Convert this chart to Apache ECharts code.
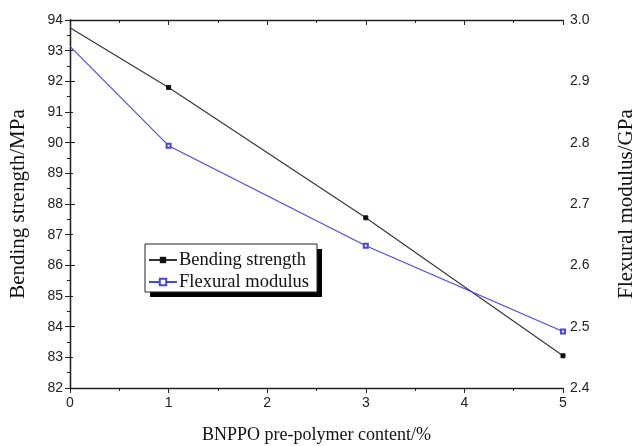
<!DOCTYPE html>
<html><head><meta charset="utf-8">
<script src="https://cdn.jsdelivr.net/npm/echarts@6/dist/echarts.min.js"></script>
<style>html,body{margin:0;padding:0;background:#fff}#c{width:639px;height:446px}</style>
</head><body><div id="c"></div>
<script>
const contents = [0, 1, 3, 5];
const bendingStrength = [93.75, 91.8, 87.55, 83.05];
const flexuralModulus = [2.957, 2.795, 2.632, 2.492];
const xTicks = [0, 1, 2, 3, 4, 5];
const leftTicks = [82, 83, 84, 85, 86, 87, 88, 89, 90, 91, 92, 93, 94];
const rightTicks = [2.4, 2.5, 2.6, 2.7, 2.8, 2.9, 3.0];

const chart = echarts.init(document.getElementById('c'), null, {renderer: 'canvas'});
const serif = 'Liberation Serif, Times New Roman, serif';
const sans = 'Liberation Sans, Arial, sans-serif';
const axisLine = {show: true, lineStyle: {color: '#222', width: 1.3}};
const pts = (ys) => contents.map((x, i) => ({value: [x, ys[i]], symbolSize: x === 0 ? 0 : 4}));
chart.setOption({
  animation: false,
  backgroundColor: '#fff',
  grid: {left: 70, right: 76, top: 20, bottom: 58, show: false, containLabel: false, outerBoundsMode: 'none'},
  graphic: [
    {type: 'rect', z: 0, shape: {x: 150, y: 249, width: 172, height: 48}, style: {fill: '#000'}, silent: true},
    {type: 'rect', z: 0, shape: {x: 145, y: 244, width: 172, height: 48}, style: {fill: '#fff', stroke: '#222', lineWidth: 1}, silent: true}
  ],
  legend: {
    left: 148, top: 250, orient: 'vertical', itemGap: 2,
    itemWidth: 28, itemHeight: 8,
    padding: 0, z: 10,
    textStyle: {fontFamily: serif, fontSize: 18.5, lineHeight: 20, color: '#111', padding: [0, 0, 0, -3]},
    data: ['Bending strength', 'Flexural modulus']
  },
  xAxis: [{
    type: 'value', min: 0, max: 5, interval: 1,
    name: 'BNPPO pre-polymer content/%', nameLocation: 'middle', nameGap: 38,
    nameTextStyle: {fontFamily: serif, fontSize: 18, color: '#111'},
    axisLine: axisLine,
    axisTick: {show: true, length: 5, lineStyle: {color: '#222'}},
    minorTick: {show: true, splitNumber: 2, length: 3, lineStyle: {color: '#222'}},
    axisLabel: {fontFamily: sans, fontSize: 14, color: '#222', margin: 8,
      formatter: v => xTicks.includes(v) ? String(v) : ''},
    splitLine: {show: false}
  }, {
    type: 'value', min: 0, max: 5, interval: 1, position: 'top',
    axisLine: axisLine,
    axisTick: {show: true, inside: true, length: 5, lineStyle: {color: '#222'}},
    minorTick: {show: true, splitNumber: 2, length: 3, lineStyle: {color: '#222'}},
    axisLabel: {show: false}, splitLine: {show: false}
  }],
  yAxis: [{
    type: 'value', min: 82, max: 94, interval: 1,
    name: 'Bending strength/MPa', nameLocation: 'middle', nameGap: 41, nameRotate: 90,
    nameTextStyle: {fontFamily: serif, fontSize: 21, color: '#111'},
    axisLine: axisLine,
    axisTick: {show: true, length: 5, lineStyle: {color: '#222'}},
    minorTick: {show: true, splitNumber: 2, length: 3, lineStyle: {color: '#222'}},
    axisLabel: {fontFamily: sans, fontSize: 14, color: '#222', margin: 7,
      formatter: v => leftTicks.includes(v) ? String(v) : ''},
    splitLine: {show: false}
  }, {
    type: 'value', min: 2.4, max: 3.0, interval: 0.1, position: 'right',
    name: 'Flexural modulus/GPa', nameLocation: 'middle', nameGap: 53, nameRotate: 90,
    nameTextStyle: {fontFamily: serif, fontSize: 21, color: '#111'},
    axisLine: axisLine,
    axisTick: {show: true, length: 5, lineStyle: {color: '#222'}},
    minorTick: {show: true, splitNumber: 2, length: 3, lineStyle: {color: '#222'}},
    axisLabel: {fontFamily: sans, fontSize: 14, color: '#222', margin: 7,
      formatter: v => v.toFixed(1)},
    splitLine: {show: false}
  }],
  series: [{
    name: 'Bending strength', type: 'line', xAxisIndex: 0, yAxisIndex: 0,
    data: pts(bendingStrength),
    symbol: 'rect', symbolSize: 4, showSymbol: true,
    lineStyle: {color: '#333', width: 1.1},
    itemStyle: {color: '#111', borderColor: '#111'}
  }, {
    name: 'Flexural modulus', type: 'line', xAxisIndex: 0, yAxisIndex: 1,
    data: pts(flexuralModulus),
    symbol: 'emptyRect', symbolSize: 4, showSymbol: true,
    lineStyle: {color: '#4545e8', width: 1.1},
    itemStyle: {color: '#4545e8', borderColor: '#4545e8', borderWidth: 1}
  }]
});
</script></body></html>
